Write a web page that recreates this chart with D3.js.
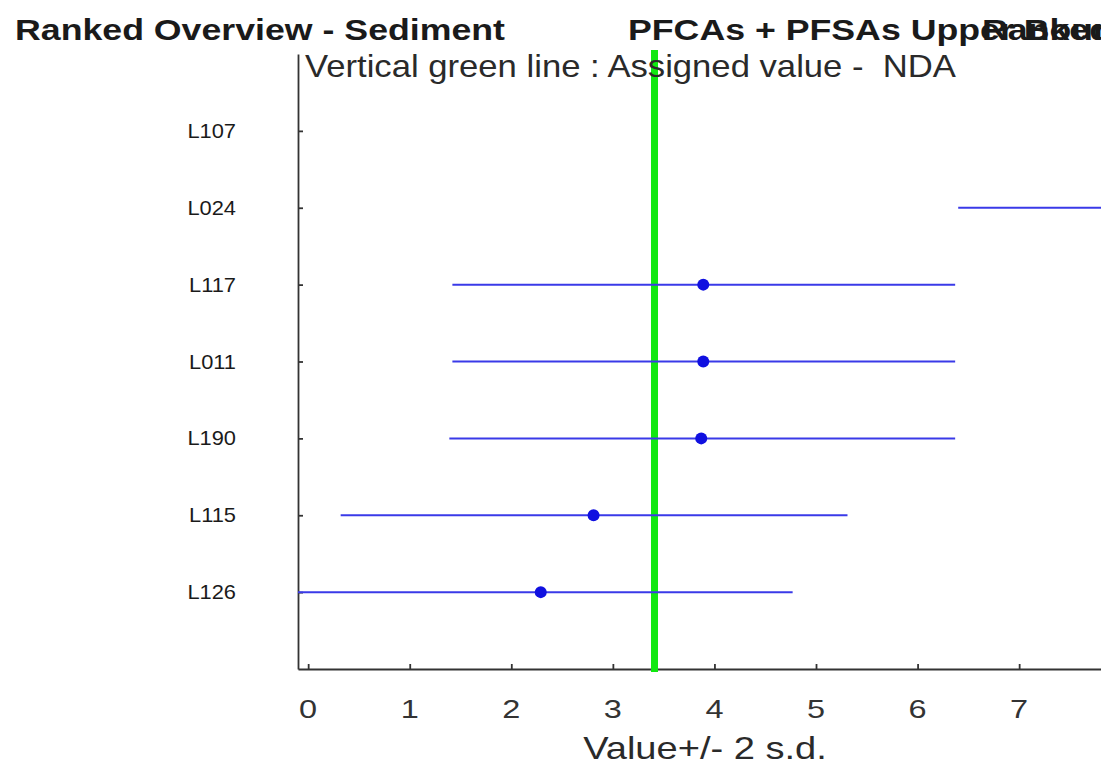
<!DOCTYPE html>
<html>
<head>
<meta charset="utf-8">
<script src="https://cdn.jsdelivr.net/npm/d3@7"></script>
<style>
  body { margin: 0; background: #ffffff; }
  svg { display: block; font-family: "Liberation Sans", Arial, sans-serif; }
  .axis path, .axis line { stroke: #333333; stroke-width: 1.8; }
  .axis text { fill: #222222; }
</style>
</head>
<body>
<div id="chart-container-ranked"></div>
<script>
// data
const labNames = ["L107", "L024", "L117", "L011", "L190", "L115", "L126"];
const labValues = [null, 8.89, 3.89, 3.89, 3.87, 2.81, 2.29];
const labLower = [null, 6.40, 1.42, 1.42, 1.39, 0.32, -0.19];
const labUpper = [null, 11.38, 6.37, 6.37, 6.37, 5.31, 4.77];
const xTickValues = [0, 1, 2, 3, 4, 5, 6, 7, 8];
const assignedValue = 3.41;

const rankedSvgWidth = 1101;
const rankedSvgHeight = 772;
// plot area (the chart is cut off on the right, like the original)
const plotLeft = 298, plotTop = 54, plotBottom = 669;

const rankedSvg = d3.select("#chart-container-ranked")
    .append("svg")
    .attr("width", rankedSvgWidth)
    .attr("height", rankedSvgHeight);

// x scale: 0 at 308px, one unit ~101.6px
const x = d3.scaleLinear()
    .domain([-0.1, 8.5])
    .range([plotLeft, plotLeft + 8.6 * 101.57]);

const y = d3.scalePoint()
    .domain(labNames)
    .range([plotTop, plotBottom])
    .padding(1);

rankedSvg.append("defs").append("clipPath")
    .attr("id", "plotClip")
    .append("rect")
    .attr("x", plotLeft)
    .attr("y", 0)
    .attr("width", rankedSvgWidth)
    .attr("height", rankedSvgHeight);

// stretched text helper, the original text is a bit wider than the font
function addText(txt, xPos, yPos, size, sx, weight, anchor) {
    return rankedSvg.append("text")
        .attr("transform", `translate(${xPos},${yPos}) scale(${sx},1)`)
        .attr("font-size", size)
        .attr("font-weight", weight || "normal")
        .attr("text-anchor", anchor || "start")
        .attr("fill", "#1a1a1a")
        .style("white-space", "pre")
        .text(txt);
}

// axes
const yAxis = rankedSvg.append("g")
    .attr("class", "axis axis-y")
    .attr("transform", `translate(${plotLeft},0)`)
    .call(d3.axisLeft(y).tickSizeInner(-5).tickSizeOuter(0).tickPadding(62));
yAxis.selectAll("text").remove();

const xAxis = rankedSvg.append("g")
    .attr("class", "axis axis-x")
    .attr("transform", `translate(0,${plotBottom})`)
    .call(d3.axisBottom(x).tickValues(xTickValues).tickFormat(d3.format("d"))
        .tickSizeInner(-5).tickSizeOuter(0));
xAxis.selectAll("text").remove();

// tick labels drawn by hand so they can be stretched like the original
labNames.forEach(function (d) {
    addText(d, 236, y(d) + 7, 21, 1.04, "normal", "end");
});
xTickValues.forEach(function (d) {
    addText(String(d), x(d), 718, 25, 1.3, "normal", "middle").attr("fill", "#333333");
});

// assigned value line
rankedSvg.append("line")
    .attr("x1", x(assignedValue))
    .attr("x2", x(assignedValue))
    .attr("y1", 50)
    .attr("y2", 672)
    .attr("stroke", "#10e810")
    .attr("stroke-width", 7);

// error bars and points
const rows = labNames.map((d, i) => ({ name: d, value: labValues[i], lo: labLower[i], hi: labUpper[i] }))
    .filter(d => d.value !== null);

const bars = rankedSvg.append("g").attr("clip-path", "url(#plotClip)");
bars.selectAll(".errbar")
    .data(rows)
    .enter()
    .append("line")
    .attr("class", "errbar")
    .attr("x1", d => x(d.lo))
    .attr("x2", d => x(d.hi))
    .attr("y1", d => y(d.name))
    .attr("y2", d => y(d.name))
    .attr("stroke", "#3a3ae8")
    .attr("stroke-width", 2);
bars.selectAll(".pt")
    .data(rows)
    .enter()
    .append("circle")
    .attr("class", "pt")
    .attr("cx", d => x(d.value))
    .attr("cy", d => y(d.name))
    .attr("r", 6)
    .attr("fill", "#1010e0");

// titles (the third one overlaps the second and runs off the edge, as in the original)
addText("Ranked Overview - Sediment", 15, 40, 30, 1.19, "bold");
addText("PFCAs + PFSAs Upper Bound", 628, 40, 30, 1.19, "bold");
addText("Ranked Overview - Sediment", 982, 40, 30, 1.19, "bold");
addText("Vertical green line : Assigned value -  NDA", 305, 77, 31.5, 1.1).attr("fill", "#2a2a2a");

// x axis label
addText("Value+/- 2 s.d.", 705, 759, 32, 1.19, "normal", "middle").attr("fill", "#2a2a2a");
</script>
</body>
</html>
